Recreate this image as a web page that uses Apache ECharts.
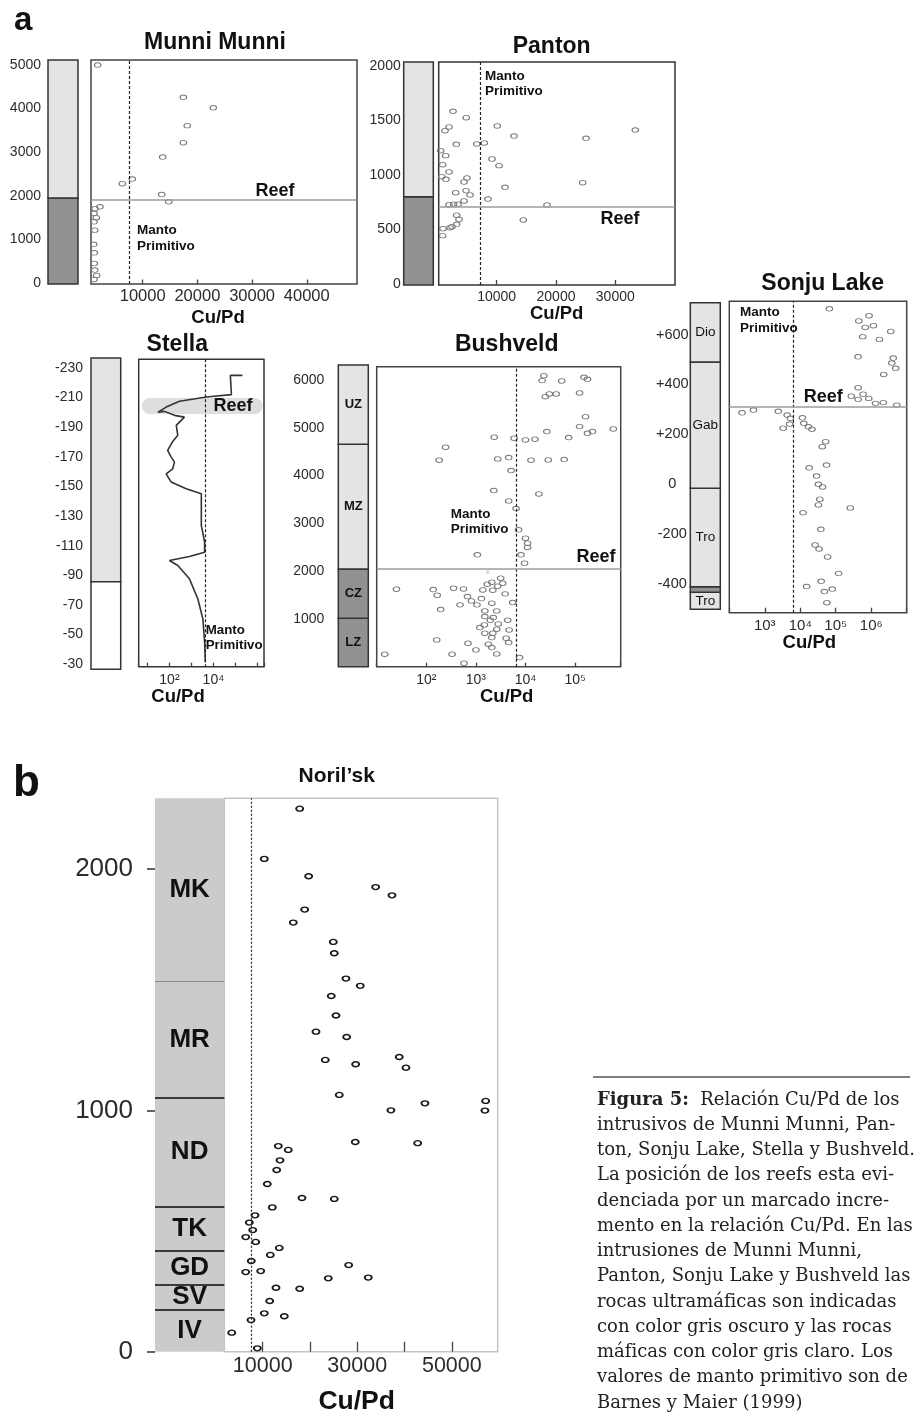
<!DOCTYPE html>
<html lang="es">
<head>
<meta charset="utf-8">
<title>Relación Cu/Pd</title>
<script src="https://cdn.jsdelivr.net/npm/echarts@6.0.0/dist/echarts.min.js"></script>
<style>
  html, body { margin: 0; padding: 0; background: #fff; }
  #fig { width: 917px; height: 1416px; }
</style>
</head>
<body>
<div id="fig"></div>
<script>
// ---- Munni Munni ----
const munniCuPd = [1770, 17430, 22900, 18150, 17430, 13650, 6270, 8100, 13470, 14750, 2190, 1280, 1100, 1520, 1100, 1220, 1040, 1150, 1150, 1220, 1590, 1100];
const munniHeight = [5000, 4260, 4020, 3610, 3220, 2890, 2280, 2385, 2030, 1865, 1750, 1705, 1600, 1500, 1405, 1215, 890, 695, 450, 300, 175, 85];
const munniUnits = [[-20, 1950, 'ultra'], [1950, 5115, 'mafic']];
const munniXTicks = [10000, 20000, 30000, 40000];
const munniYTicks = [0, 1000, 2000, 3000, 4000, 5000];
const munniReef = 1900, munniMantle = 7600;

// ---- Panton ----
const pantonCuPd = [2630, 4870, 1960, 1280, 10100, 12920, 25060, 33380, 3190, 6630, 7910, 560, 1400, 9210, 10390, 890, 1960, 720, 1450, 4990,
  4490, 24500, 11400, 4820, 3080, 5500, 8530, 4490, 1960, 2740, 3470, 18480, 3250, 3640, 3250, 2120, 2460, 940, 890, 14490];
const pantonHeight = [1584, 1525, 1440, 1406, 1449, 1357, 1336, 1412, 1281, 1284, 1293, 1222, 1177, 1146, 1085, 1094, 1027, 984, 960, 972,
  935, 929, 886, 856, 837, 816, 779, 761, 727, 731, 731, 724, 630, 593, 547, 516, 525, 507, 443, 587];
const pantonUnits = [[-10, 800, 'ultra'], [800, 2036, 'mafic']];
const pantonXTicks = [10000, 20000, 30000];
const pantonYTicks = [0, 500, 1000, 1500, 2000];
const pantonReef = 710, pantonMantle = 7300;

// ---- Stella (perfil) ----
const stellaCuPd = [209000, 58900, 66100, 4790, 288, 71, 30, 59, 170, 479, 204, 240, 141, 83, 120, 170, 141, 71, 120, 575,
  2820, 2820, 3980, 3980, 813, 100, 240, 813, 1950, 3310, 3980, 4270];
const stellaDepth = [-225, -225, -212, -210.4, -207.5, -203.6, -200.2, -200.7, -198, -196.8, -191.2, -184.5, -180.4, -174.3, -169.8, -166.4, -161.9, -158.5, -152.9, -148.4,
  -145, -123.6, -112.3, -105.5, -102.6, -99.9, -96.5, -87.5, -74, -60.4, -45, -31.1];
const stellaUnits = [[-236.6, -85.7, 'mafic'], [-85.7, -26.6, 'blank']];
const stellaYTicks = [-230, -210, -190, -170, -150, -130, -110, -90, -70, -50, -30];
const stellaReef = -204.3, stellaMantle = 4400;

// ---- Bushveld ----
const bushCuPd = [23400, 21600, 53700, 151000, 178000, 30200, 25100, 41700, 123000, 162000, 123000, 178000, 224000, 589000, 26900, 74100, 2340, 5890, 10000, 15500,
  245, 182, 2750, 4570, 12900, 28800, 60300, 5130, 2290, 18600, 4570, 6460, 7240, 10000, 11000, 11000, 8130, 9550, 1070,
  3160, 2090, 3470, 1700, 2750, 2190, 1380, 25, 138, 166, 355, 562, 3890, 676, 813, 1290, 1050, 479, 2090, 5500,
  195, 1510, 2630, 1510, 2240, 1950, 4370, 2820, 1480, 1200, 2630, 2190, 1510, 4680, 2090, 4070, 162, 4570, 692, 1780,
  2090, 1000, 14.5, 331, 2630, 7590, 575];
const bushHeight = [6091, 5987, 5980, 6056, 6014, 5707, 5651, 5707, 5728, 5233, 5024, 4885, 4920, 4976, 4920, 4795, 4802, 4781, 4746, 4760,
  4593, 4321, 4349, 4377, 4321, 4328, 4335, 4105, 3686, 3616, 3470, 3310, 2864, 2690, 2585, 2495, 2341, 2167, 2341,
  1852, 1768, 1747, 1726, 1684, 1600, 1607, 1621, 1614, 1496, 1642, 1628, 1524, 1468, 1377, 1426, 1294, 1294, 1329, 1343,
  1196, 1168, 1168, 1049, 1028, 972, 972, 896, 875, 819, 784, 701, 701, 770, 610, 596, 561, 505, 491, 470,
  400, 352, 261, 261, 268, 191, 73];
const bushUnits = [[0, 1015, 'ultra', 'LZ'], [1015, 2046, 'ultra', 'CZ'], [2046, 4655, 'mafic', 'MZ'], [4655, 6314, 'mafic', 'UZ']];
const bushYTicks = [1000, 2000, 3000, 4000, 5000, 6000];
const bushReef = 2040, bushMantle = 6470;

// ---- Sonju Lake ----
const sonjuCuPd = [66000, 870000, 447000, 1150000, 676000, 3550000, 575000, 1700000, 427000, 4170000, 3800000, 4900000, 2240000, 427000, 275000, 427000, 589000, 851000, 1320000, 2190000,
  5250000, 229, 479, 2400, 4270, 5250, 5010, 3310, 11500, 12600, 17000, 21400, 52000, 41700, 55000, 17800, 28800, 32400, 42600, 35500,
  32400, 257000, 12000, 38000, 26300, 33900, 58900, 120000, 38900, 15100, 79400, 47900, 56200];
const sonjuHeight = [704, 676, 655, 636, 629, 613, 592, 581, 511, 506, 486, 465, 440, 387, 353, 340, 361, 344, 324, 327,
  317, 286, 297, 292, 277, 264, 241, 224, 266, 244, 230, 220, 170, 150, 76, 65, 32, -1, -12, -61,
  -84, -96, -115, -182, -245, -261, -293, -359, -391, -412, -422, -432, -477];
const sonjuUnits = [[-503, -435, 'mafic', 'Tro'], [-435, -412.5, 'ultra', ''], [-412.5, -17, 'mafic', 'Tro'], [-17, 490, 'mafic', 'Gab'], [490, 728, 'mafic', 'Dio']];
const sonjuYTicks = [-400, -200, 0, 200, 400, 600];
const sonjuReef = 309, sonjuMantle = 6450;

// ---- Noril'sk ----
const norilCuPd = [17820, 10340, 19720, 33890, 37340, 18880, 16470, 24930, 25140, 27610, 30630, 24500, 25500, 21270, 27760, 23230, 29660, 38880, 40300, 26190,
  57150, 44310, 37120, 57000, 29580, 42770, 13300, 15410, 13660, 12960, 10970, 18310, 25140, 12030, 8370, 7170, 7890, 6410, 8520, 13510,
  11610, 7590, 28180, 6410, 9580, 23870, 32330, 12810, 17820, 11480, 10340, 14570, 7530, 3450, 8860];
const norilHeight = [2250, 2042, 1970, 1925, 1891, 1832, 1778, 1698, 1651, 1546, 1516, 1474, 1393, 1326, 1304, 1209, 1191, 1221, 1177, 1064,
  1039, 1029, 1000, 999, 869, 864, 852, 836, 793, 753, 695, 637, 633, 598, 565, 535, 504, 475, 455, 430,
  401, 376, 359, 330, 334, 304, 307, 265, 261, 210, 159, 147, 131, 79, 14];
const norilUnits = [[0, 174, 'noril', 'IV'], [174, 279, 'noril', 'SV'], [279, 420, 'noril', 'GD'], [420, 600, 'noril', 'TK'],
  [600, 1053, 'noril', 'ND'], [1053, 1533, 'noril', 'MR'], [1533, 2293, 'noril', 'MK']];
const norilBounds = [174, 279, 420, 600, 1053, 1533];
const norilXTicks = [10000, 20000, 30000, 40000, 50000];
const norilXLabels = [10000, 30000, 50000];
const norilYTicks = [0, 1000, 2000];
const norilMantle = 7670;

const captionLines = [
  'intrusivos de Munni Munni, Pan-',
  'ton, Sonju Lake, Stella y Bushveld.',
  'La posición de los reefs esta evi-',
  'denciada por un marcado incre-',
  'mento en la relación Cu/Pd. En las',
  'intrusiones de Munni Munni,',
  'Panton, Sonju Lake y Bushveld las',
  'rocas ultramáficas son indicadas',
  'con color gris oscuro y las rocas',
  'máficas con color gris claro. Los',
  'valores de manto primitivo son de',
  'Barnes y Maier (1999)'
];

const SANS = '"Liberation Sans", Arial, sans-serif';
const SERIF = '"DejaVu Serif", serif';
const ELLIPSE = 'path://M0,5C0,2.2 2.2,0 5,0C7.8,0 10,2.2 10,5C10,7.8 7.8,10 5,10C2.2,10 0,7.8 0,5Z';
const SUP = { 2: '²', 3: '³', 4: '⁴', 5: '⁵', 6: '⁶' };
const FILL = { ultra: '#919191', mafic: '#e4e4e4', blank: '#ffffff', noril: '#cbcbcb' };
const plain = v => String(v);

const grid = [], xAxis = [], yAxis = [], series = [], graphic = [];

function addGrid(box, xa, ya, extra) {
  const i = grid.length;
  grid.push(Object.assign({ left: box[0], top: box[1], width: box[2], height: box[3], containLabel: false, outerBoundsMode: 'none' }, extra));
  xAxis.push(Object.assign({ gridIndex: i }, xa));
  yAxis.push(Object.assign({ gridIndex: i }, ya));
  return i;
}

function powers(shown) {
  return function (v) {
    const e = Math.round(Math.log10(v));
    if (Math.abs(Math.log10(v) - e) > 1e-6 || shown.indexOf(e) < 0) return '';
    return '10' + SUP[e];
  };
}

// columna estratigrafica
function column(box, range, units, ticks, lab, o) {
  o = o || {};
  const i = addGrid(box,
    { type: 'value', min: 0, max: 1, show: false },
    {
      type: 'value', min: range[0], max: range[1], inverse: !!o.inverse,
      axisLine: { show: false, onZero: false }, splitLine: { show: false },
      axisTick: { show: !!o.tick, customValues: ticks, length: 8, lineStyle: { color: '#333', width: 1.5 } },
      axisLabel: { customValues: ticks, margin: lab.margin, fontSize: lab.size, fontFamily: SANS, color: '#2b2b2b', align: lab.align || 'right', formatter: lab.fmt || plain }
    });
  series.push({
    type: 'scatter', xAxisIndex: i, yAxisIndex: i, data: [], silent: true,
    markArea: {
      silent: true,
      data: units.map(u => [
        {
          yAxis: u[0], name: u[3] || '',
          itemStyle: { color: FILL[u[2]], borderColor: '#333', borderWidth: o.noBorder ? 0 : 1.5 },
          label: { show: !!u[3], position: 'inside', fontSize: o.unitSize || 13, fontWeight: o.unitBold ? 'bold' : 'normal', color: '#111', fontFamily: SANS }
        },
        { yAxis: u[1] }])
    },
    markLine: o.lines ? {
      silent: true, symbol: ['none', 'none'], label: { show: false },
      data: o.lines.map((v, k) => ({ yAxis: v, lineStyle: { type: 'solid', color: k === o.lines.length - 1 ? '#8a8a8a' : '#3a3a3a', width: k === o.lines.length - 1 ? 1 : 2 } }))
    } : undefined
  });
  return i;
}

function plot(box, xa, range, border, inverse) {
  return addGrid(box,
    Object.assign({ axisLine: { show: false, onZero: false }, splitLine: { show: false } }, xa),
    { type: 'value', min: range[0], max: range[1], inverse: !!inverse, show: false, axisLine: { onZero: false } },
    { show: true, borderColor: border, borderWidth: 1.5 });
}

function linX(min, max, ticks, labels, size, tickLen, margin) {
  return {
    type: 'value', min: min, max: max,
    axisTick: { inside: true, length: tickLen, customValues: ticks, lineStyle: { color: '#444', width: 1.3 } },
    axisLabel: { customValues: labels, fontSize: size, margin: margin, color: '#2b2b2b', fontFamily: SANS, formatter: plain }
  };
}

function logX(min, max, shown, size, tickLen, margin) {
  return {
    type: 'log', logBase: 10, min: min, max: max,
    axisTick: { inside: true, length: tickLen, lineStyle: { color: '#444', width: 1.3 } },
    axisLabel: { formatter: powers(shown), fontSize: size, margin: margin, color: '#2b2b2b', fontFamily: SANS }
  };
}

function guides(reef, mantle, dash) {
  const d = [{ xAxis: mantle, lineStyle: { type: dash || [3, 2], color: '#222', width: 1.2 } }];
  if (reef != null) d.push({ yAxis: reef, lineStyle: { type: 'solid', color: '#9c9c9c', width: 1.6 } });
  return { silent: true, symbol: ['none', 'none'], label: { show: false }, data: d };
}

function points(i, xs, ys, reef, mantle, look) {
  series.push({
    type: 'scatter', xAxisIndex: i, yAxisIndex: i, silent: true, z: 4,
    data: xs.map((x, k) => [x, ys[k]]),
    symbol: ELLIPSE, symbolSize: look.size,
    itemStyle: { color: 'rgba(255,255,255,0)', borderColor: look.color, borderWidth: look.width, opacity: 1 },
    markLine: guides(reef, mantle, look.dash)
  });
}

const grey = { size: [6.5, 4.6], color: '#7a7a7a', width: 1 };

// Munni Munni
column([48, 60, 30, 224], [-20, 5115], munniUnits, munniYTicks, { margin: 7, size: 14 });
const gMunni = plot([91, 60, 266, 224], linX(550, 49180, munniXTicks, munniXTicks, 16.5, 4.5, 4), [-20, 5115], '#444');
points(gMunni, munniCuPd, munniHeight, munniReef, munniMantle, grey);

// Panton
column([403.7, 62, 29.6, 223], [-10, 2036], pantonUnits, pantonYTicks, { margin: 3, size: 14 });
const gPanton = plot([438.7, 62, 236.3, 223], linX(220, 40070, pantonXTicks, pantonXTicks, 14, 5, 5), [-10, 2036], '#333');
points(gPanton, pantonCuPd, pantonHeight, pantonReef, pantonMantle, grey);

// Stella
column([91, 358, 29.7, 311.3], [-236.6, -26.6], stellaUnits, stellaYTicks, { margin: 8, size: 14 }, { inverse: true });
const gStella = plot([138.7, 359.3, 125.3, 307.4], logX(4, 2e6, [2, 4], 14, 4, 6), [-235.9, -28.1], '#333', true);
series.push({
  type: 'line', xAxisIndex: gStella, yAxisIndex: gStella, silent: true, z: 4,
  data: stellaCuPd.map((x, k) => [x, stellaDepth[k]]),
  showSymbol: false, symbol: 'none', lineStyle: { color: '#333', width: 1.6 },
  markLine: guides(null, stellaMantle)
});

// Bushveld
column([338.3, 365, 30, 301.7], [0, 6314], bushUnits, bushYTicks, { margin: 14, size: 14 }, { unitSize: 13, unitBold: true });
const gBush = plot([376.7, 366.7, 244, 300], logX(10, 8.3e5, [2, 3, 4, 5], 14, 4, 6), [0, 6278], '#444');
points(gBush, bushCuPd, bushHeight, bushReef, bushMantle, grey);

// Sonju Lake
column([690.3, 302.7, 30, 306.6], [-503, 728], sonjuUnits, sonjuYTicks,
  { margin: 18, size: 14.5, align: 'center', fmt: v => (v > 0 ? '+' : '') + v }, { unitSize: 13.5 });
const gSonju = plot([729.3, 301.3, 177.4, 311.4], logX(100, 1e7, [3, 4, 5, 6], 15, 5, 6), [-517, 734], '#444');
points(gSonju, sonjuCuPd, sonjuHeight, sonjuReef, sonjuMantle, grey);

// Noril'sk
column([155, 798.3, 69.3, 553.4], [0, 2293], norilUnits, norilYTicks, { margin: 22, size: 26 },
  { tick: true, noBorder: true, unitSize: 26, unitBold: true, lines: norilBounds });
const gNoril = plot([224.3, 798.3, 273.4, 553.4], linX(1880, 59700, norilXTicks, norilXLabels, 21.5, 10, 3), [0, 2293], '#c4c4c4');
points(gNoril, norilCuPd, norilHeight, null, norilMantle, { size: [7, 5], color: '#1a1a1a', width: 1.6, dash: [2, 2] });

// textos
function txt(s, x, y, size, bold, align) {
  graphic.push({
    type: 'text', silent: true, z: 10,
    style: { text: s, x: x, y: y, fill: '#111', font: (bold ? 'bold ' : '') + size + 'px ' + SANS, align: align || 'center', verticalAlign: 'middle' }
  });
}
function manto(x, y, size) {
  txt('Manto', x, y, size || 13.5, true, 'left');
  txt('Primitivo', x, y + 15.5, size || 13.5, true, 'left');
}

txt('a', 14, 21, 33, true, 'left');
txt('Munni Munni', 215, 43, 23, true);
txt('Reef', 275, 191, 18, true);
manto(137, 230.5);
txt('Cu/Pd', 218, 318, 18.5, true);

txt('Panton', 551.7, 46.7, 23, true);
manto(485, 76);
txt('Reef', 620, 219.3, 18, true);
txt('Cu/Pd', 556.7, 314.3, 18.5, true);

txt('Stella', 177.3, 344.3, 23, true);
txt('Reef', 233, 405.7, 18, true);
manto(205.7, 630, 13.3);
txt('Cu/Pd', 178, 697, 18.5, true);

txt('Bushveld', 506.7, 344.3, 23, true);
manto(450.7, 514);
txt('Reef', 596, 556.7, 18, true);
txt('Cu/Pd', 506.7, 697, 18.5, true);

txt('Sonju Lake', 822.7, 283.3, 23, true);
manto(740, 312.3);
txt('Reef', 823.3, 396.7, 18, true);
txt('Cu/Pd', 809.3, 643.3, 18.5, true);

txt('b', 13, 784, 44, true, 'left');
txt('Noril’sk', 336.7, 776.7, 21, true);
txt('Cu/Pd', 356.7, 1401.7, 26.5, true);

// leyenda de la figura
graphic.push({ type: 'line', silent: true, shape: { x1: 593, y1: 1077, x2: 910, y2: 1077 }, style: { stroke: '#555', lineWidth: 1.5 } });
graphic.push({
  type: 'text', silent: true, z: 10,
  style: {
    text: '{b|Figura 5:}{r|  Relación Cu/Pd de los}', x: 597, y: 1100, align: 'left', verticalAlign: 'middle',
    rich: {
      b: { fontFamily: SERIF, fontSize: 18, fontWeight: 'bold', fill: '#222' },
      r: { fontFamily: SERIF, fontSize: 18, fill: '#222' }
    }
  }
});
captionLines.forEach((line, k) => {
  graphic.push({
    type: 'text', silent: true, z: 10,
    style: { text: line, x: 597, y: 1100 + (k + 1) * 25.25, fill: '#222', font: '18px ' + SERIF, align: 'left', verticalAlign: 'middle' }
  });
});

const chart = echarts.init(document.getElementById('fig'), null, { renderer: 'canvas', width: 917, height: 1416 });
chart.setOption({
  animation: false,
  backgroundColor: '#fff',
  textStyle: { fontFamily: SANS },
  grid: grid, xAxis: xAxis, yAxis: yAxis, series: series
});

// banda del reef en Stella y sombra en Bushveld, ubicadas con las escalas de los ejes
const sb = chart.convertToPixel({ gridIndex: gStella }, [10, stellaReef]);
graphic.unshift({
  type: 'rect', silent: true, z: 0,
  shape: { x: 141.7, y: sb[1] - 8, width: 121, height: 16, r: 8 },
  style: { fill: '#dedede' }
});
const bb = chart.convertToPixel({ gridIndex: gBush }, [1740, bushReef]);
graphic.unshift({
  type: 'ellipse', silent: true, z: 0,
  shape: { cx: bb[0], cy: bb[1] + 3, rx: 88, ry: 3 },
  style: { fill: { type: 'radial', x: 0.5, y: 0.5, r: 0.5, colorStops: [{ offset: 0, color: 'rgba(140,140,140,0.55)' }, { offset: 1, color: 'rgba(210,210,210,0)' }] } }
});
chart.setOption({ graphic: graphic });
</script>
</body>
</html>
